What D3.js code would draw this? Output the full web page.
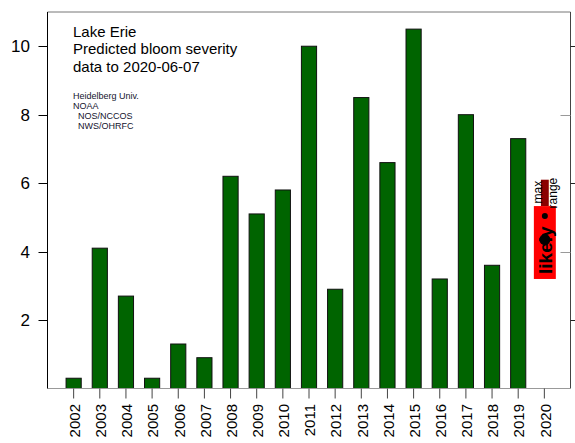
<!DOCTYPE html>
<html>
<head>
<meta charset="utf-8">
<script src="https://cdn.jsdelivr.net/npm/d3@7"></script>
<style>
  html, body { margin: 0; padding: 0; background: #fff; }
  svg { display: block; font-family: "Liberation Sans", Arial, sans-serif; }
</style>
</head>
<body>
<svg id="chart" width="575" height="443"></svg>
<script>
// ---- data ----
const years = ["2002","2003","2004","2005","2006","2007","2008","2009","2010","2011",
               "2012","2013","2014","2015","2016","2017","2018","2019","2020"];
const barYears = ["2002","2003","2004","2005","2006","2007","2008","2009","2010","2011",
                  "2012","2013","2014","2015","2016","2017","2018","2019"];
const severity = [0.3, 4.1, 2.7, 0.3, 1.3, 0.9, 6.2, 5.1, 5.8, 10.0,
                  2.9, 8.5, 6.6, 10.5, 3.2, 8.0, 3.6, 7.3];
const yTicks = [2, 4, 6, 8, 10];
const predYear = "2020";
const predLikelyLow = 3.2;
const predLikelyHigh = 5.33;
const predMax = 6.1;
const predValue = 4.35;
const titleLines = ["Lake Erie", "Predicted bloom severity", "data to 2020-06-07"];
const creditLines = ["Heidelberg Univ.", "NOAA", "  NOS/NCCOS", "  NWS/OHRFC"];

// ---- layout ----
const L = 47.5, R = 570.5, T = 12, B = 388.5;
const svg = d3.select("#chart");

const x = d3.scalePoint().domain(years).range([L, R]).padding(1);
const y = d3.scaleLinear().domain([0, 11]).range([B, T]);

// bars
const bw = x.step() * 0.58;
svg.append("g").selectAll("rect").data(barYears).join("rect")
  .attr("x", (d) => x(d) - bw / 2)
  .attr("y", (d, i) => y(severity[i]))
  .attr("width", bw)
  .attr("height", (d, i) => y(0) - y(severity[i]))
  .attr("fill", "#006400")
  .attr("stroke", "#111")
  .attr("stroke-width", 1);

// prediction
const pw = x.step() * 0.84, mw = x.step() * 0.3;
const px = x(predYear) + 0.5;
const pg = svg.append("g");
pg.append("rect")
  .attr("x", px - mw / 2).attr("width", mw)
  .attr("y", y(predMax)).attr("height", y(predLikelyHigh) - y(predMax))
  .attr("fill", "#8B0000");
pg.append("rect")
  .attr("x", px - pw / 2).attr("width", pw)
  .attr("y", y(predLikelyHigh)).attr("height", y(predLikelyLow) - y(predLikelyHigh))
  .attr("fill", "#FF0000");
const likelyStart = y(predLikelyLow) - 5;
pg.append("text")
  .attr("transform", `translate(${px},${likelyStart}) rotate(-90)`)
  .attr("dy", "0.36em")
  .attr("font-size", 19)
  .attr("font-weight", "bold")
  .attr("fill", "#000")
  .text("likely");
pg.append("circle")
  .attr("cx", px).attr("cy", likelyStart - 58).attr("r", 3)
  .attr("fill", "#000");
pg.append("circle")
  .attr("cx", px).attr("cy", y(predValue)).attr("r", 5.5)
  .attr("fill", "#000");
pg.append("text")
  .attr("transform", `translate(${px - 7},${y(predMax) + 1}) rotate(-90)`)
  .attr("dy", "0.35em")
  .attr("text-anchor", "end")
  .attr("font-size", 12)
  .text("max");
pg.append("text")
  .attr("transform", `translate(${px + 8},${y(predMax) - 2}) rotate(-90)`)
  .attr("dy", "0.35em")
  .attr("text-anchor", "end")
  .attr("font-size", 12)
  .text("range");

// box
svg.append("line").attr("x1", L).attr("x2", R).attr("y1", T).attr("y2", T).attr("stroke", "#777");
svg.append("line").attr("x1", R).attr("x2", R).attr("y1", T).attr("y2", B).attr("stroke", "#444");
svg.append("line").attr("x1", L).attr("x2", R).attr("y1", B).attr("y2", B).attr("stroke", "#999");
svg.append("line").attr("x1", L).attr("x2", L).attr("y1", T).attr("y2", B).attr("stroke", "#000");

// left axis
const ly = svg.append("g");
ly.selectAll("line").data(yTicks).join("line")
  .attr("x1", L - 9).attr("x2", L)
  .attr("y1", (d) => Math.round(y(d)) + 0.5).attr("y2", (d) => Math.round(y(d)) + 0.5)
  .attr("stroke", "#000");
ly.selectAll("text").data(yTicks).join("text")
  .attr("x", 30).attr("y", (d) => y(d))
  .attr("dy", "0.35em")
  .attr("text-anchor", "end")
  .attr("font-size", 17)
  .text((d) => d);

// right ticks
const ry = svg.append("g");
ry.selectAll("line").data(yTicks).join("line")
  .attr("x1", (d, i) => i % 2 === 0 ? R : R - 10)
  .attr("x2", (d, i) => i % 2 === 0 ? R + 5 : R)
  .attr("y1", (d) => Math.round(y(d)) + 0.5).attr("y2", (d) => Math.round(y(d)) + 0.5)
  .attr("stroke", (d, i) => i % 2 === 0 ? "#222" : "#999");

// bottom axis
const bx = svg.append("g");
bx.selectAll("line").data(years).join("line")
  .attr("x1", (d) => x(d)).attr("x2", (d) => x(d))
  .attr("y1", B).attr("y2", B + 10)
  .attr("stroke", "#444");
bx.selectAll("text").data(years).join("text")
  .attr("transform", (d) => `translate(${x(d) + 1},404) rotate(-90)`)
  .attr("dy", "0.35em")
  .attr("text-anchor", "end")
  .attr("font-size", 15)
  .text((d) => d);

// title
svg.append("g").selectAll("text").data(titleLines).join("text")
  .attr("x", 73).attr("y", (d, i) => 36.5 + i * 17.5)
  .attr("font-size", 15)
  .text((d) => d);

// credits
svg.append("g").selectAll("text").data(creditLines).join("text")
  .attr("x", 73).attr("y", (d, i) => 98.5 + i * 10.3)
  .attr("font-size", 9)
  .attr("fill", "#14142e")
  .attr("xml:space", "preserve")
  .style("white-space", "pre")
  .text((d) => d);
</script>
</body>
</html>
